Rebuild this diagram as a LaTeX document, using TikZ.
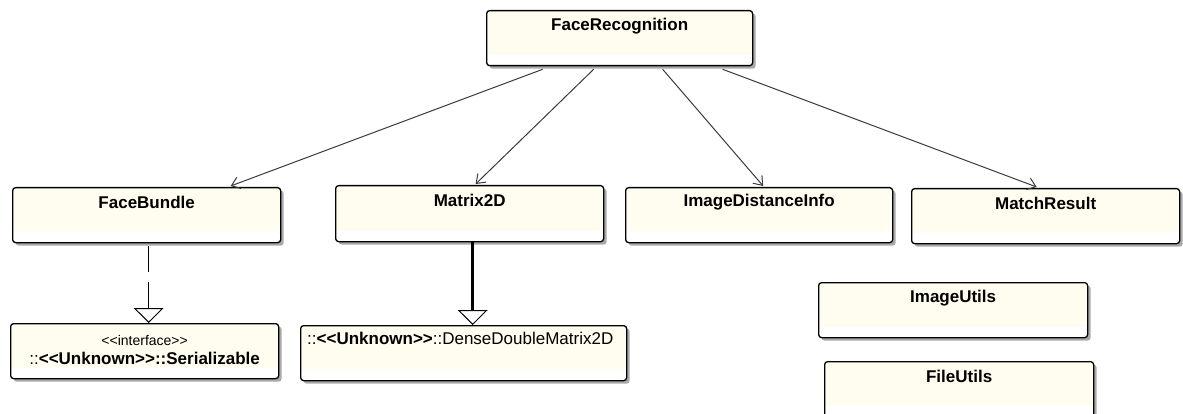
\documentclass[tikz,border=0pt]{standalone}
\usepackage{fontspec}
\setmainfont{Liberation Sans}
\usetikzlibrary{arrows.meta,calc,shadows}
\definecolor{ink}{HTML}{000000}
\definecolor{linegray}{HTML}{3A3A3A}
\definecolor{classfill}{HTML}{FFFCF0}
\definecolor{shadowgray}{HTML}{A9A9A9}
\newcommand{\dlt}{<{}<}
\newcommand{\dgt}{>{}>}

\begin{document}
\begin{tikzpicture}[
  x=1pt, y=-1pt,
  classbox/.style 2 args={
    draw=ink,
    fill=classfill,
    line width=1.3pt,
    rounded corners=3pt,
    anchor=north west,
    inner sep=0pt,
    minimum width=#1,
    minimum height=#2,
    drop shadow={shadow xshift=3pt, shadow yshift=-3pt, fill=shadowgray, opacity=1},
    path picture={\fill[white] ([yshift=11pt]path picture bounding box.south west) rectangle (path picture bounding box.south east);}
  },
  classname/.style={font=\fontsize{17}{20}\selectfont\bfseries, text=ink, inner sep=0pt},
  plainname/.style={font=\fontsize{17}{20}\selectfont, text=ink, inner sep=0pt},
  stereo/.style={font=\fontsize{14}{17}\selectfont, text=ink, inner sep=0pt},
  assoc/.style={-{Straight Barb[length=8pt,width=12pt]}, line width=1pt, draw=linegray},
  realize/.style={-{Triangle[open,fill=white,length=15pt,width=30pt,line width=1pt]}, line width=1pt, draw=ink, dash pattern=on 26pt off 10pt},
  generalize/.style={-{Triangle[open,fill=white,length=15pt,width=30pt,line width=1pt]}, line width=3pt, draw=ink}
]

\useasboundingbox (0,0) rectangle (1183,414);

% top class
\node[classbox={266pt}{55pt}] (fr) at (486,10) {};
\node[classname] (frname) at ($(fr.north)+(0,16)$) {FaceRecognition};

% second row
\node[classbox={268pt}{55pt}] (fb) at (12,187) {};
\node[classname] (fbname) at ($(fb.north)+(0,15)$) {FaceBundle};

\node[classbox={268pt}{56pt}] (mx) at (335,185) {};
\node[classname] (mxname) at ($(mx.north)+(0,15)$) {Matrix2D};

\node[classbox={267pt}{55pt}] (idi) at (625,187) {};
\node[classname] (idiname) at ($(idi.north)+(0,15)$) {ImageDistanceInfo};

\node[classbox={268pt}{55pt}] (mr) at (911,188) {};
\node[classname] (mrname) at ($(mr.north)+(0,15)$) {MatchResult};

% base types
\node[classbox={268pt}{55pt}] (ser) at (10,323) {};
\node[stereo] (serstereo) at ($(ser.north)+(0,17)$) {\dlt interface\dgt};
\node[classname] (sername) at ($(ser.north)+(0,35)$) {{\mdseries ::}\dlt Unknown\dgt::Serializable};

\node[classbox={326pt}{55pt}] (ddm) at (300,325) {};
\node[plainname, anchor=west] (ddmname) at ($(ddm.north west)+(7,13)$) {::{\bfseries\dlt Unknown\dgt}::DenseDoubleMatrix2D};

% utility classes
\node[classbox={269pt}{55pt}] (iu) at (818,282) {};
\node[classname] (iuname) at ($(iu.north)+(0,16)$) {ImageUtils};

\node[classbox={269pt}{55pt}] (fu) at (824,361) {};
\node[classname] (funame) at ($(fu.north)+(0,15)$) {FileUtils};

% associations
\draw[assoc] ($(fr.south)+(-77,3)$) -- ($(fb.north)+(84,-1)$);
\draw[assoc] ($(fr.south)+(-26,3)$) -- ($(mx.north)+(6,-1)$);
\draw[assoc] ($(fr.south)+(43,3)$) -- ($(idi.north)+(4,-1)$);
\draw[assoc] ($(fr.south)+(103,3)$) -- ($(mr.north)+(-9,-1)$);

% realization and generalization
\draw[realize] ($(fb.south)+(2,3)$) -- ($(ser.north)+(4,0)$);
\draw[generalize] ($(mx.south)+(3,0)$) -- ($(ddm.north)+(9,0)$);

\end{tikzpicture}
\end{document}
